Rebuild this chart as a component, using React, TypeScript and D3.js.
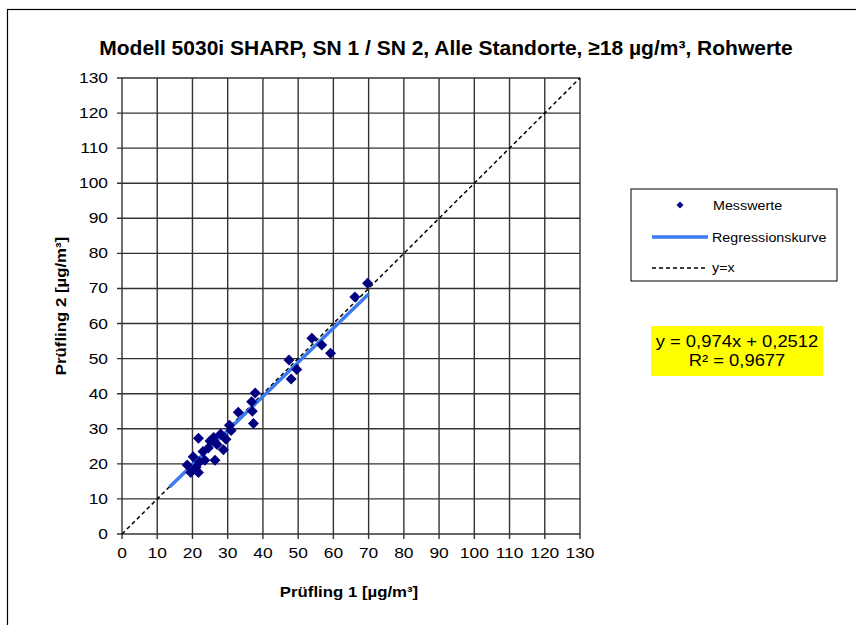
import React from "react";
import * as d3 from "d3";

const title = "Modell 5030i SHARP, SN 1 / SN 2, Alle Standorte, ≥18 µg/m³, Rohwerte";
const xLabel = "Prüfling 1 [µg/m³]";
const yLabel = "Prüfling 2 [µg/m³]";
const ticks = [0, 10, 20, 30, 40, 50, 60, 70, 80, 90, 100, 110, 120, 130];
const xs = [18.5, 19.5, 20.2, 21.0, 21.7, 22.0, 21.7, 23.0, 23.5, 24.5, 25.0, 26.0, 26.4, 27.0, 28.0, 28.8, 29.5, 30.5, 31.0, 33.0, 37.3, 37.0, 36.8, 37.8, 47.4, 48.0, 49.6, 53.9, 56.7, 59.2, 66.1, 69.7];
const ys = [19.7, 17.5, 22.0, 19.0, 17.5, 20.5, 27.3, 23.5, 21.0, 24.5, 26.5, 27.5, 21.0, 25.5, 28.5, 24.0, 27.0, 31.0, 29.5, 34.7, 31.5, 35.0, 37.7, 40.2, 49.6, 44.2, 46.9, 55.8, 53.9, 51.5, 67.6, 71.5];
const slope = 0.974;
const intercept = 0.2512;
const regRange = [13.5, 70];
const legendLabels = ["Messwerte", "Regressionskurve", "y=x"];
const eqLines = ["y = 0,974x + 0,2512", "R² = 0,9677"];

const FONT = "Arial, 'Liberation Sans', sans-serif";

function T(props: { x: number; y: number; sx?: number; size: number; anchor?: string; bold?: boolean; rotate?: number; children: React.ReactNode }) {
  const { x, y, sx = 1, size, anchor = "start", bold, rotate = 0, children } = props;
  return (
    <text
      transform={`translate(${x},${y}) rotate(${rotate}) scale(${sx},1)`}
      textAnchor={anchor}
      fontSize={size}
      fontWeight={bold ? "bold" : "normal"}
    >
      {children}
    </text>
  );
}

export default function App() {
  const x = d3.scaleLinear().domain([0, 130]).range([122, 580]);
  const y = d3.scaleLinear().domain([0, 130]).range([534, 78]);
  const line = d3.line<number[]>().x((d) => x(d[0])).y((d) => y(d[1]));
  const reg = regRange.map((v) => [v, slope * v + intercept]);
  const diag = [[0, 0], [130, 130]];
  const diamond = (cx: number, cy: number, d: number) =>
    `M${cx},${cy - d}L${cx + d},${cy}L${cx},${cy + d}L${cx - d},${cy}Z`;

  return (
    <svg width={856} height={625} style={{ position: "absolute", left: 0, top: 0, background: "#fff" }} fontFamily={FONT}>
      <rect x={0} y={0} width={856} height={625} fill="#fff" />
      <rect x={7.5} y={9.5} width={900} height={700} fill="none" stroke="#000" strokeWidth={1.2} />
      <T x={446} y={55} size={21} anchor="middle" bold>{title}</T>
      {ticks.map((t) => (
        <g key={"g" + t}>
          <line x1={x(t)} x2={x(t)} y1={y(0) + 5} y2={y(130)} stroke="#333" strokeWidth={1.4} />
          <line x1={x(0) - 5} x2={x(130)} y1={y(t)} y2={y(t)} stroke="#333" strokeWidth={1.4} />
          <T x={x(t)} y={y(0) + 24} size={14.5} sx={1.2} anchor="middle">{t}</T>
          <T x={108} y={y(t) + 5} size={14.5} sx={1.2} anchor="end">{t}</T>
        </g>
      ))}
      <path d={line(diag) || ""} stroke="#000" strokeWidth={1.5} strokeDasharray="4,3" fill="none" />
      <path d={line(reg) || ""} stroke="#3a7bf2" strokeWidth={3.5} fill="none" />
      {xs.map((v, i) => (
        <path key={"p" + i} d={diamond(x(v), y(ys[i]), 5.5)} fill="#000080" />
      ))}
      <T x={349} y={597} size={15} sx={1.12} anchor="middle" bold>{xLabel}</T>
      <T x={66} y={306} size={15} sx={1.12} anchor="middle" bold rotate={-90}>{yLabel}</T>
      <rect x={631} y={189} width={206} height={92} fill="#fff" stroke="#000" strokeWidth={1} />
      <path d={diamond(680, 205, 3.5)} fill="#000080" />
      <T x={713} y={210} size={13} sx={1.1}>{legendLabels[0]}</T>
      <line x1={652} x2={708} y1={237} y2={237} stroke="#3a7bf2" strokeWidth={3.5} />
      <T x={712} y={242} size={13} sx={1.1}>{legendLabels[1]}</T>
      <line x1={652} x2={708} y1={268} y2={268} stroke="#000" strokeWidth={1.3} strokeDasharray="4,3" />
      <T x={712} y={272} size={13} sx={1.1}>{legendLabels[2]}</T>
      <rect x={651} y={326} width={172} height={50} fill="#ffff00" />
      <T x={737} y={347} size={16} sx={1.15} anchor="middle">{eqLines[0]}</T>
      <T x={737} y={366} size={16} sx={1.15} anchor="middle">{eqLines[1]}</T>
    </svg>
  );
}
